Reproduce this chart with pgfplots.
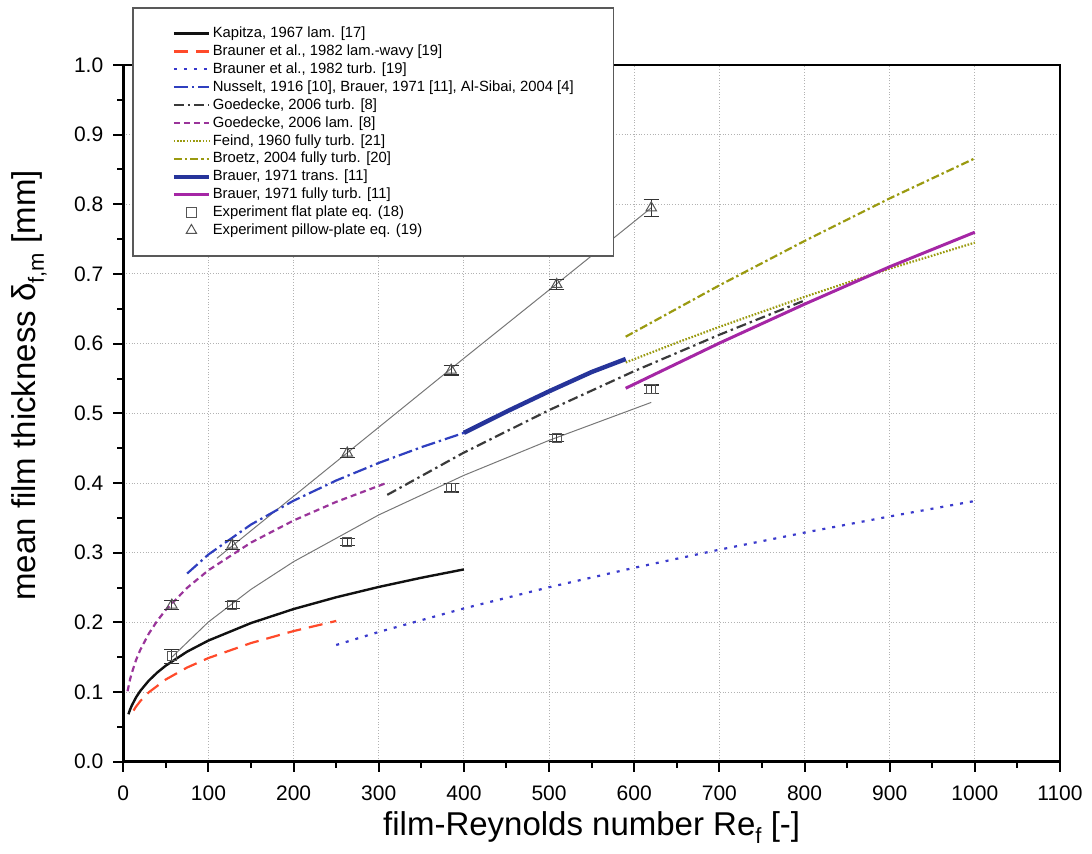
\documentclass[border=0pt]{standalone}
\usepackage{fontspec}
\setmainfont{Liberation Sans}
\usepackage{pgfplots}
\pgfplotsset{compat=1.18}

\definecolor{kapitza}{HTML}{111111}
\definecolor{braunerlam}{HTML}{FF4A2A}
\definecolor{braunerturb}{HTML}{3A3ACC}
\definecolor{nusselt}{HTML}{2F3FBF}
\definecolor{goedturb}{HTML}{3A3A3A}
\definecolor{goedlam}{HTML}{9A349A}
\definecolor{olive}{HTML}{9A9A10}
\definecolor{brauertrans}{HTML}{26349A}
\definecolor{brauerturb}{HTML}{A526A5}
\definecolor{expgray}{HTML}{555555}

\begin{document}
\begin{tikzpicture}
\path[use as bounding box] (-61.65pt,-46.15pt) rectangle (484.35pt,380.85pt);
\begin{axis}[
  at={(0,0)}, anchor=south west, scale only axis,
  width=468.35pt, height=348.35pt,
  xmin=0, xmax=1100, ymin=0, ymax=1.0,
  xtick={0,100,200,300,400,500,600,700,800,900,1000,1100},
  ytick={0,0.1,0.2,0.3,0.4,0.5,0.6,0.7,0.8,0.9,1.0},
  minor x tick num=1, minor y tick num=1,
  tick align=outside, xtick pos=bottom, ytick pos=left,
  major tick length=5pt, minor tick length=3pt,
  every tick/.style={black, line width=1pt},
  axis line style={line width=1.3pt},
  grid=major,
  major grid style={densely dotted, black!30, line width=0.5pt},
  /pgf/number format/assume math mode=true,
  ticklabel style={font=\fontsize{10.5}{12}\selectfont},
  x tick label style={/pgf/number format/1000 sep={}, yshift=-3.5pt},
  y tick label style={/pgf/number format/fixed, /pgf/number format/fixed zerofill, /pgf/number format/precision=1, xshift=-1.5pt},
  xlabel={film-Reynolds number Re\raisebox{-0.45ex}{\fontsize{11}{11}\selectfont f} [-]},
  ylabel={mean film thickness δ\raisebox{-0.45ex}{\fontsize{11}{11}\selectfont f,m} [mm]},
  label style={font=\fontsize{16.5}{18}\selectfont},
  xlabel style={at={(axis description cs:0.5,-0.106)}, anchor=base},
  ylabel style={at={(axis description cs:-0.0932,0.54)}, anchor=base, rotate=0},
  legend style={
    at={(axis description cs:0.0096,1.0828)}, anchor=north west,
    draw=black!65, line width=0.8pt, fill=white,
    inner xsep=19.25pt, inner ysep=8.25pt,
    font=\fontsize{7.4}{8.95}\selectfont,
    nodes={inner xsep=0.75pt, inner ysep=0pt, text height=6.5pt, text depth=2.45pt},
    cells={anchor=west},
  },
  legend cell align=left,
  legend image code/.code={\draw[mark repeat=2,mark phase=2,#1] plot coordinates {(0cm,0cm) (0.31cm,0cm) (0.62cm,0cm)};},
]

% fitted trend lines through the measurements
\addplot[expgray!80, line width=0.5pt, forget plot] coordinates {
  (57,0.150) (100,0.2006) (150,0.2474) (200,0.2871) (300,0.3542) (400,0.4110) (500,0.4612) (620,0.5157)};
\addplot[expgray!80, line width=0.5pt, forget plot] coordinates {
  (110,0.292) (200,0.381) (300,0.480) (400,0.579) (500,0.677) (620,0.795)};

% correlations from literature
\addplot[kapitza, line width=1.2pt] coordinates {
  (6,0.0681) (8,0.0749) (10,0.0807) (15,0.0924) (20,0.1017) (30,0.1164) (40,0.1281) (50,0.1380)
  (75,0.1580) (100,0.1739) (150,0.1990) (200,0.2191) (250,0.2360) (300,0.2508) (350,0.2640) (400,0.2760)};
\addlegendentry{Kapitza, 1967 lam. [17]}

\addplot[braunerlam, line width=1.1pt, dash pattern=on 7pt off 4pt] coordinates {
  (12,0.0734) (15,0.0791) (20,0.0870) (30,0.0996) (50,0.1181) (75,0.1352) (100,0.1488)
  (150,0.1703) (200,0.1875) (250,0.2020)};
\addlegendentry{Brauner et al., 1982 lam.-wavy [19]}

\addplot[braunerturb, line width=1.1pt, dash pattern=on 1.5pt off 3.5pt] coordinates {
  (250,0.1675) (300,0.1862) (400,0.2200) (500,0.2504) (600,0.2783) (700,0.3043)
  (800,0.3288) (900,0.3520) (1000,0.3742)};
\addlegendentry{Brauner et al., 1982 turb. [19]}

\addplot[nusselt, line width=1.1pt, dash pattern=on 7pt off 2pt on 1.2pt off 2pt] coordinates {
  (75,0.2701) (100,0.2974) (150,0.3404) (200,0.3746) (250,0.4036) (300,0.4288) (350,0.4514) (400,0.4720)};
\addlegendentry{Nusselt, 1916 [10], Brauer, 1971 [11], Al-Sibai, 2004 [4]}

\addplot[goedturb, line width=1.1pt, dash pattern=on 5pt off 2pt on 1.2pt off 2pt] coordinates {
  (310,0.383) (400,0.4437) (500,0.5046) (600,0.5606) (700,0.6128) (800,0.662)};
\addlegendentry{Goedecke, 2006 turb. [8]}

\addplot[goedlam, line width=1.1pt, dash pattern=on 3pt off 2pt] coordinates {
  (5,0.1012) (8,0.1184) (10,0.1275) (15,0.1460) (20,0.1606) (30,0.1839) (40,0.2024) (50,0.2181)
  (75,0.2496) (100,0.2748) (150,0.3145) (200,0.3462) (250,0.3729) (310,0.4005)};
\addlegendentry{Goedecke, 2006 lam. [8]}

\addplot[olive, line width=1.1pt, dash pattern=on 0.8pt off 0.8pt] coordinates {
  (590,0.573) (650,0.6014) (700,0.6241) (800,0.6672) (900,0.7077) (1000,0.745)};
\addlegendentry{Feind, 1960 fully turb. [21]}

\addplot[olive, line width=1.1pt, dash pattern=on 4pt off 1.5pt on 1.2pt off 1.5pt] coordinates {
  (590,0.610) (700,0.6837) (800,0.7474) (900,0.8085) (1000,0.8660)};
\addlegendentry{Broetz, 2004 fully turb. [20]}

\addplot[brauertrans, line width=2.2pt] coordinates {
  (400,0.472) (450,0.5025) (500,0.5316) (550,0.5593) (590,0.578)};
\addlegendentry{Brauer, 1971 trans. [11]}

\addplot[brauerturb, line width=1.5pt] coordinates {
  (590,0.536) (700,0.6008) (800,0.6567) (900,0.7104) (1000,0.760)};
\addlegendentry{Brauer, 1971 fully turb. [11]}

% measurements with error bars
\addplot[expgray, line width=0.5pt, only marks, mark=square, mark size=2.3pt,
  error bars/.cd, y dir=both, y explicit,
  error bar style={black!80, line width=0.6pt},
  error mark options={rotate=90, mark size=3.8pt, black!80, line width=0.6pt}]
  coordinates {
  (57,0.1515) +- (0,0.010)
  (128,0.2248) +- (0,0.005)
  (263,0.3156) +- (0,0.005)
  (385,0.3930) +- (0,0.006)
  (509,0.4647) +- (0,0.005)
  (620,0.5346) +- (0,0.006)};
\addlegendentry{Experiment flat plate eq. (18)}

\addplot[expgray, line width=0.5pt, only marks, mark=triangle, mark size=3pt,
  error bars/.cd, y dir=both, y explicit,
  error bar style={black!80, line width=0.6pt},
  error mark options={rotate=90, mark size=3.8pt, black!80, line width=0.6pt}]
  coordinates {
  (57,0.2248) +- (0,0.006)
  (128,0.311) +- (0,0.006)
  (263,0.443) +- (0,0.006)
  (385,0.562) +- (0,0.007)
  (509,0.685) +- (0,0.007)
  (620,0.795) +- (0,0.012)};
\addlegendentry{Experiment pillow-plate eq. (19)}

\end{axis}
\end{tikzpicture}
\end{document}
